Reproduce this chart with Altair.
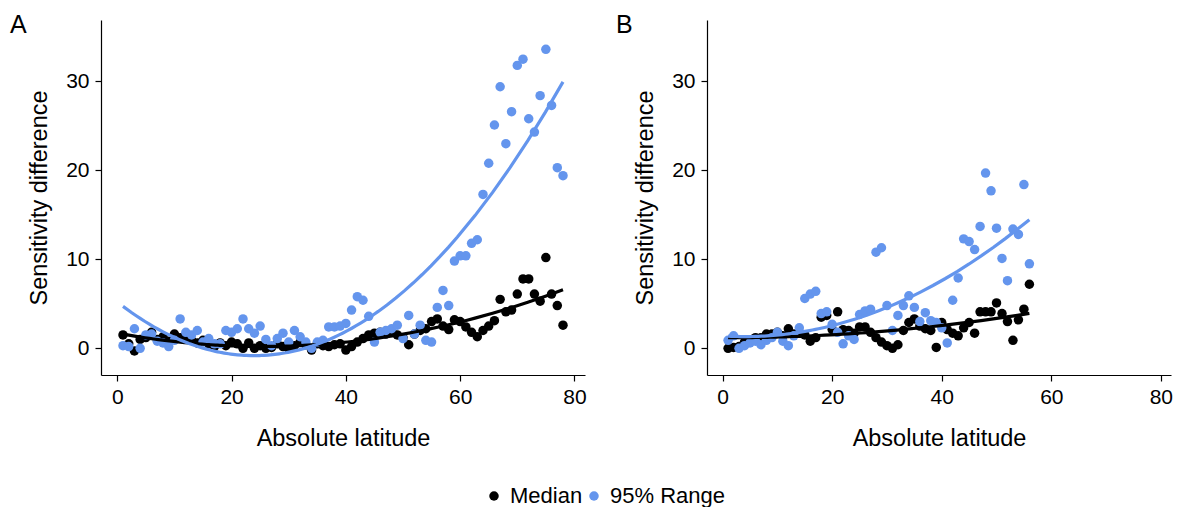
import altair as alt
import pandas as pd

# ---------------- data ----------------
lat_a = list(range(1, 79))
median_a = [1.5, 0.5, -0.3, 1.0, 1.2, 1.8, 1.0, 1.3, 0.8, 1.6,
            1.2, 1.1, 0.9, 0.6, 0.9, 0.5, 0.2, 0.6, 0.3, 0.7,
            0.5, 0.0, 0.6, 0.0, 0.3, 0.0, 0.1, 0.5, 0.2, 0.0,
            0.3, 0.7, 0.4, -0.2, 0.5, 0.3, 0.2, 0.4, 0.5, -0.2,
            0.2, 0.7, 1.1, 1.5, 1.7, 1.8, 1.6, 2.0, 1.5, 1.2,
            0.4, 1.6, 2.0, 2.2, 3.0, 3.3, 2.5, 2.1, 3.2, 3.0,
            2.4, 1.8, 1.3, 2.0, 2.5, 3.1, 5.5, 4.1, 4.3, 6.1,
            7.8, 7.8, 6.1, 5.3, 10.2, 6.1, 4.8, 2.6]
range_a = [0.3, 0.2, 2.2, 0.0, 1.5, 1.6, 0.8, 0.6, 0.2, 0.9,
           3.3, 1.8, 1.5, 2.0, 0.7, 1.1, 0.5, 0.5, 2.0, 1.8,
           2.2, 3.3, 2.2, 1.7, 2.5, 1.0, 0.3, 1.1, 1.7, 0.7,
           2.0, 1.3, 0.7, 0.0, 0.7, 0.9, 2.4, 2.4, 2.5, 2.8,
           4.3, 5.8, 5.4, 3.6, 0.7, 1.8, 2.0, 2.2, 2.6, 1.1,
           3.7, 1.6, 2.6, 0.9, 0.7, 4.6, 6.5, 4.8, 9.8, 10.4,
           10.4, 11.8, 12.2, 17.3, 20.8, 25.1, 29.4, 23.0, 26.6, 31.8,
           32.5, 25.8, 24.3, 28.4, 33.6, 27.3, 20.3, 19.4]

lat_b = list(range(1, 57))
median_b = [0.0, 0.1, 0.2, 0.7, 0.9, 1.2, 1.2, 1.6, 1.6, 1.8,
            1.4, 2.2, 1.6, 1.8, 1.5, 0.8, 1.2, 3.5, 3.7, 2.1,
            4.1, 2.1, 2.0, 1.7, 2.4, 2.4, 1.8, 1.2, 0.7, 0.3,
            0.0, 0.4, 2.0, 2.9, 3.3, 2.5, 2.2, 2.0, 0.1, 2.9,
            2.1, 1.7, 1.4, 2.3, 2.9, 1.7, 4.1, 4.1, 4.1, 5.1,
            3.9, 3.0, 0.9, 3.2, 4.4, 7.2]
range_b = [0.9, 1.4, 0.0, 0.3, 0.6, 0.8, 0.4, 0.9, 1.2, 1.8,
           0.8, 0.3, 1.4, 2.3, 5.6, 6.1, 6.4, 3.9, 4.1, 2.7,
           1.8, 0.5, 1.4, 1.0, 3.8, 4.2, 4.4, 10.8, 11.3, 4.8,
           2.0, 3.7, 4.8, 5.9, 4.6, 3.0, 4.0, 3.1, 2.9, 2.3,
           0.6, 5.4, 7.9, 12.3, 12.0, 11.1, 13.7, 19.7, 17.7, 13.5,
           10.1, 7.6, 13.4, 12.8, 18.4, 9.5]

series_names = ["Median", "95% Range"]
series_colors = ["#000000", "#6495ED"]
x_ticks = [0, 20, 40, 60, 80]
y_ticks = [0, 10, 20, 30]


def make_df(lat, med, rng):
    d1 = pd.DataFrame({"lat": lat, "value": med, "series": series_names[0], "ord": 0})
    d2 = pd.DataFrame({"lat": lat, "value": rng, "series": series_names[1], "ord": 1})
    return pd.concat([d1, d2], ignore_index=True)


df_a = make_df(lat_a, median_a, range_a)
df_b = make_df(lat_b, median_b, range_b)

FONT = "Liberation Sans"

color = alt.Color(
    "series:N",
    scale=alt.Scale(domain=series_names, range=series_colors),
    legend=alt.Legend(
        title=None,
        orient="none",
        direction="horizontal",
        legendX=382,
        legendY=465,
        labelFontSize=22,
        labelFont=FONT,
        labelColor="black",
        symbolType="circle",
        symbolSize=90,
        symbolStrokeWidth=0,
        columnPadding=0,
        labelOffset=5,
    ),
)


def panel(df, label, width):
    x = alt.X(
        "lat:Q",
        scale=alt.Scale(domain=[-2.85, 81.85], nice=False, zero=False),
        axis=alt.Axis(values=x_ticks, title="Absolute latitude"),
    )
    y = alt.Y(
        "value:Q",
        scale=alt.Scale(domain=[-3.0, 36.9], nice=False, zero=False),
        axis=alt.Axis(values=y_ticks, title="Sensitivity difference"),
    )
    base = alt.Chart(df)
    pts = base.mark_circle(size=90, opacity=1).encode(
        x=x, y=y, color=color, order=alt.Order("ord:Q")
    )
    lines = (
        base.transform_regression(
            "lat", "value", method="poly", order=2, groupby=["series"]
        )
        .mark_line(strokeWidth=3.2)
        .encode(x=x, y=y, color=color)
    )
    return alt.layer(pts, lines).properties(
        width=width,
        height=355,
        title=alt.TitleParams(
            label,
            anchor="start",
            frame="group",
            fontSize=25,
            font=FONT,
            fontWeight="normal",
            color="black",
            dx=-91,
            dy=17.5,
            offset=0,
        ),
    )


chart = (
    alt.hconcat(panel(df_a, "A", 484), panel(df_b, "B", 464), spacing=29)
    .properties(padding={"left": 2, "top": 4, "right": 0, "bottom": 0})
    .configure_view(stroke=None)
    .configure_axis(
        grid=False,
        domainColor="black",
        domainWidth=1.2,
        tickColor="black",
        tickWidth=1.2,
        tickSize=6,
        labelFont=FONT,
        labelFontSize=21,
        labelColor="black",
        labelPadding=6,
        titleFont=FONT,
        titleFontSize=23.5,
        titleFontWeight="normal",
        titleColor="black",
    )
    .configure_axisX(titlePadding=19, labelPadding=5)
    .configure_axisY(titlePadding=14)
)

chart.save("out.html", embed_options={"renderer": "svg", "actions": False})
